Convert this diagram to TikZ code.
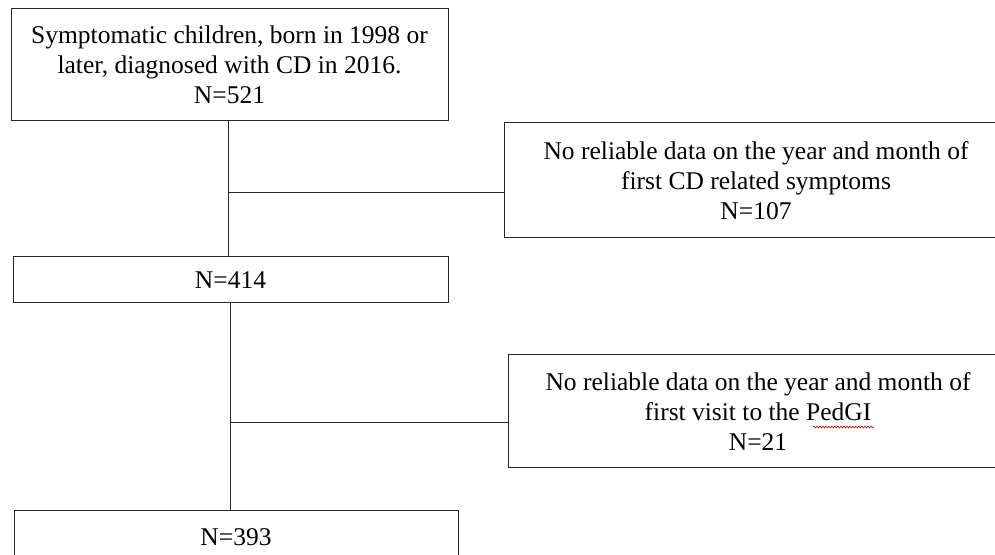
\documentclass[tikz,border=0pt]{standalone}
\usepackage{fontspec}
\setmainfont{Liberation Serif}
\usetikzlibrary{calc, positioning}
\usetikzlibrary{decorations.pathmorphing}
\tikzset{
  font=\fontsize{25.5}{30}\selectfont,
  % General box
  box/.style={draw=black!85, line width=1pt, shape=rectangle, align=center,
    inner sep=0pt},
  % Main flow box
  fbox/.style={box},
  % Exclusion box
  xbox/.style={box},
  % Connector lines
  link/.style={draw=black!85, line width=1pt},
  % Spell check squiggle
  squig/.style={red!80!black, line width=0.6pt, decorate,
    decoration={snake, amplitude=0.9pt, segment length=3pt}},
}
\begin{document}
\begin{tikzpicture}[x=1pt, y=1pt]

      \useasboundingbox (0,0) rectangle (995,554);
      \clip (0,0) rectangle (995,554);

      % Flow boxes
      \node[fbox, minimum width=437pt, minimum height=112pt] (all) at (229.5,489)
      {Symptomatic children, born in 1998 or\\ later, diagnosed with CD in 2016.\\ N=521};
      \node[fbox, minimum width=435pt, minimum height=46pt] (n414) at (230.5,274) {N=414};
      \node[fbox, minimum width=444pt, minimum height=54pt] (n393) at (236,17) {N=393};

      % Exclusion boxes
      \node[xbox, minimum width=504pt, minimum height=115pt] (nosym) at (756,373.5)
      {No reliable data on the year and month of\\ first CD related symptoms\\ N=107};
      \node[xbox, minimum width=500pt, minimum height=113pt] (novis) at (758,142.5)
      {No reliable data on the year and month of\\ first visit to the PedGI\\ N=21};

      % Branch points
      \coordinate (b1) at (228,361);
      \coordinate (b2) at (230,131);

      \draw[link] (all.south -| b1) -- (n414.north -| b1);
      \draw[link] (b1) -- (b1 -| nosym.west);

      \draw[link] (n414.south -| b2) -- (n393.north -| b2);
      \draw[link] (b2) -- (b2 -| novis.west);

      % squiggle under PedGI
      \draw[squig] (813,127) -- (874,127);
    \end{tikzpicture}
\end{document}
